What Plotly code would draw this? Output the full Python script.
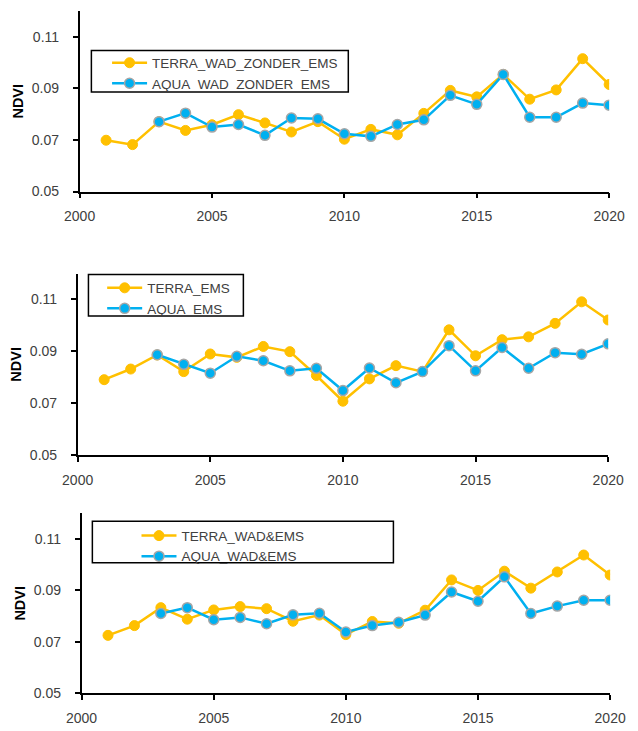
import plotly.graph_objects as go

# ---- data -------------------------------------------------------------
years_terra = list(range(2001, 2021))
years_aqua = list(range(2003, 2021))

terra_wad_zonder_ems = [0.0699, 0.0682, 0.0771, 0.0737, 0.0759, 0.0798, 0.0766, 0.0731, 0.0771, 0.0703,
                        0.0741, 0.0720, 0.0803, 0.0892, 0.0867, 0.0954, 0.0858, 0.0894, 0.1015, 0.0915]
aqua_wad_zonder_ems = [0.0771, 0.0804, 0.0750, 0.0760, 0.0718, 0.0785, 0.0782, 0.0724, 0.0714,
                       0.0760, 0.0778, 0.0873, 0.0838, 0.0954, 0.0788, 0.0788, 0.0843, 0.0835]

terra_ems = [0.0791, 0.0832, 0.0886, 0.0822, 0.0890, 0.0877, 0.0919, 0.0899, 0.0807, 0.0708,
             0.0794, 0.0845, 0.0822, 0.0983, 0.0883, 0.0945, 0.0956, 0.1008, 0.1091, 0.1021]
aqua_ems = [0.0887, 0.0850, 0.0816, 0.0881, 0.0864, 0.0825, 0.0835, 0.0749, 0.0836,
            0.0779, 0.0822, 0.0922, 0.0825, 0.0915, 0.0835, 0.0895, 0.0889, 0.0929]

terra_wad_ems = [0.0725, 0.0763, 0.0833, 0.0788, 0.0824, 0.0837, 0.0829, 0.0780, 0.0804, 0.0728,
                 0.0779, 0.0772, 0.0823, 0.0941, 0.0900, 0.0975, 0.0909, 0.0972, 0.1038, 0.0960]
aqua_wad_ems = [0.0810, 0.0833, 0.0786, 0.0795, 0.0770, 0.0805, 0.0811, 0.0738, 0.0763,
                0.0776, 0.0804, 0.0894, 0.0858, 0.0953, 0.0810, 0.0839, 0.0862, 0.0862]

panels = [
    ("TERRA_WAD_ZONDER_EMS", terra_wad_zonder_ems, "AQUA_WAD_ZONDER_EMS", aqua_wad_zonder_ems),
    ("TERRA_EMS", terra_ems, "AQUA_EMS", aqua_ems),
    ("TERRA_WAD&EMS", terra_wad_ems, "AQUA_WAD&EMS", aqua_wad_ems),
]

x_ticks = [2000, 2005, 2010, 2015, 2020]
y_ticks = [0.05, 0.07, 0.09, 0.11]
y_range = [0.05, 0.12]

# ---- layout geometry (pixels) -------------------------------------------
W, H = 638, 731
ML, MR, MT, MB = 60, 10, 5, 20
PW, PH = W - ML - MR, H - MT - MB


def fx(px):
    return (px - ML) / PW


def fy(py):
    return (H - MB - py) / PH


# plot area per panel: (left, right, top, bottom)
boxes = [(80, 620, 11, 194), (78, 619, 277, 461), (82, 621, 520, 702)]
# legend frame per panel: (left, right, top, bottom)
frames = [(92, 354, 51, 93), (89, 247, 278, 320), (93, 400, 528, 570)]
# legend anchor per panel: (left, top)
legend_pos = [(108, 48), (103, 276), (138, 527)]

YELLOW = "#FFC000"
BLUE = "#00B0F0"
FONT = "Liberation Sans"
TXT = "#404040"

fig = go.Figure()
layout = dict(
    width=W, height=H,
    margin=dict(l=ML, r=MR, t=MT, b=MB),
    paper_bgcolor="white", plot_bgcolor="white",
    font=dict(family=FONT, size=14, color=TXT),
    shapes=[],
)

for i, (tname, tvals, aname, avals) in enumerate(panels):
    n = "" if i == 0 else str(i + 1)
    lg = "legend" + n
    xa, ya = "x" + n, "y" + n
    fig.add_trace(go.Scatter(
        x=years_terra, y=tvals, name=tname, mode="lines+markers",
        line=dict(color=YELLOW, width=2.5),
        marker=dict(color=YELLOW, size=10, line=dict(color=YELLOW, width=1)),
        xaxis=xa, yaxis=ya, legend=lg,
    ))
    fig.add_trace(go.Scatter(
        x=years_aqua, y=avals, name=aname, mode="lines+markers",
        line=dict(color=BLUE, width=2.5),
        marker=dict(color=BLUE, size=10, line=dict(color="#A6A6A6", width=1.5)),
        xaxis=xa, yaxis=ya, legend=lg,
    ))

    l, r, t, b = boxes[i]
    layout["xaxis" + n] = dict(
        domain=[fx(l), fx(r)], anchor=ya, range=[2000, 2020],
        tickvals=x_ticks, ticks="outside", ticklen=5, tickwidth=1.5, tickcolor="black",
        showline=True, linecolor="black", linewidth=1.5, showgrid=False, zeroline=False,
        ticklabelstandoff=6, tickfont=dict(size=14, color=TXT),
    )
    layout["yaxis" + n] = dict(
        domain=[fy(b), fy(t)], anchor=xa, range=y_range,
        tickvals=y_ticks, tickformat=".2f", ticks="outside", ticklen=5, tickwidth=1.5,
        tickcolor="black", showline=True, linecolor="black", linewidth=1.5,
        showgrid=False, zeroline=False, ticklabelstandoff=11,
        tickfont=dict(size=14, color=TXT),
        title=dict(text="<b>NDVI</b>", font=dict(size=14.5, color="black"), standoff=5),
    )

    fl, fr, ft, fb = frames[i]
    layout["shapes"].append(dict(
        type="rect", xref="paper", yref="paper",
        x0=fx(fl), x1=fx(fr), y0=fy(fb), y1=fy(ft),
        line=dict(color="black", width=1.5), fillcolor="white", layer="above",
    ))
    lx, ly = legend_pos[i]
    layout[lg] = dict(
        x=fx(lx), y=fy(ly), xanchor="left", yanchor="top",
        bgcolor="rgba(0,0,0,0)", borderwidth=0,
        font=dict(family=FONT, size=13.5, color=TXT),
        itemwidth=35, tracegroupgap=0,
    )

fig.update_layout(**layout)
fig.write_html("out.html")
